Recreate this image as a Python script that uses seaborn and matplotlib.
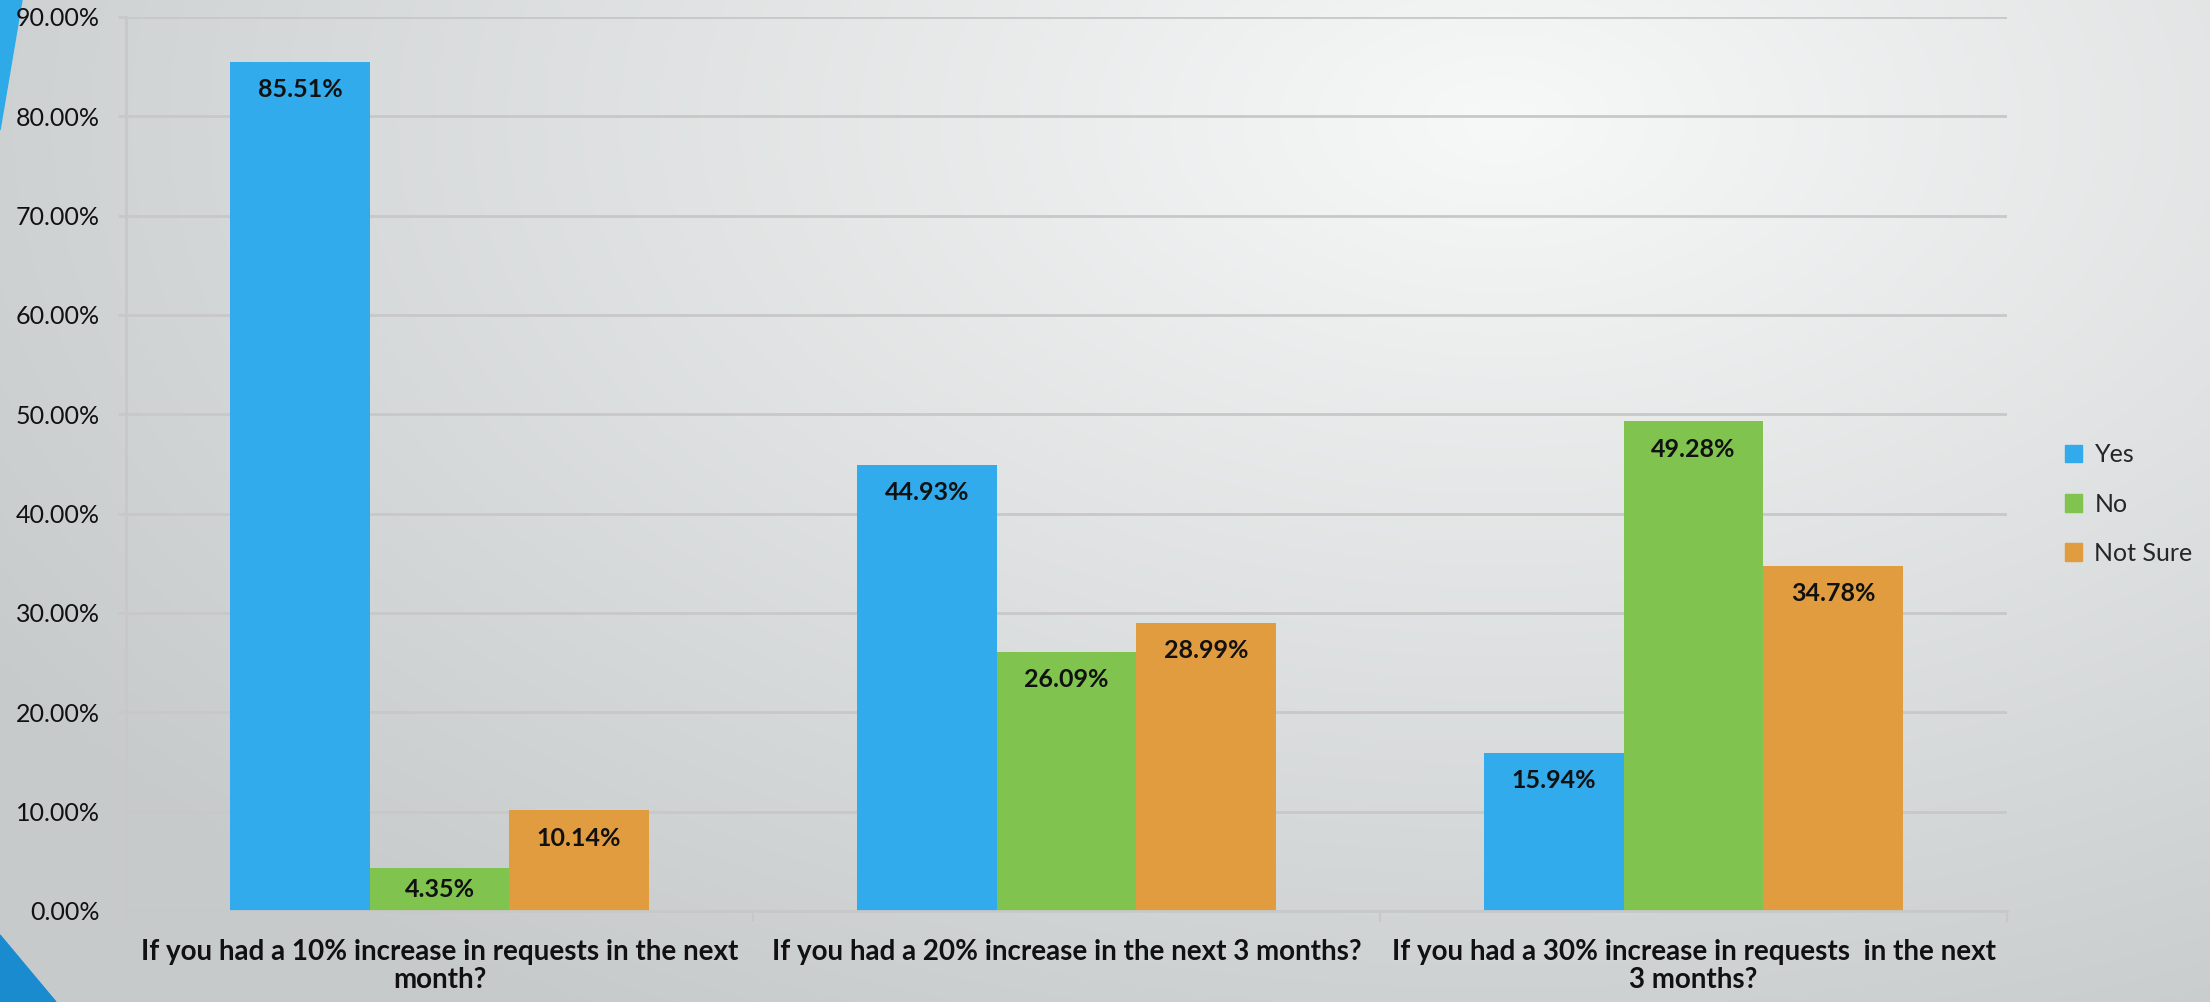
import numpy as np
import pandas as pd
import matplotlib.pyplot as plt
import seaborn as sns
from matplotlib.patches import Polygon, Patch

# Survey data
questions = ["If you had a 10% increase in requests in the next\nmonth?",
             "If you had a 20% increase in the next 3 months?",
             "If you had a 30% increase in requests  in the next\n3 months?"]
answers = ["Yes", "No", "Not Sure"]
yes = [85.51, 44.93, 15.94]
no = [4.35, 26.09, 49.28]
not_sure = [10.14, 28.99, 34.78]
colors = ["#31abeb", "#80c34f", "#e29c40"]
y_ticks = [0, 10, 20, 30, 40, 50, 60, 70, 80, 90]

sns.set_style("white")
plt.rcParams['font.family'] = ['Lato', 'DejaVu Sans']

df = pd.DataFrame({
    "Question": questions * 3,
    "Answer": [a for a in answers for _ in questions],
    "Value": yes + no + not_sure,
})

W, H = 2210, 1002
fig = plt.figure(figsize=(W / 100, H / 100), dpi=100)

# Slide-like background with a soft radial gradient
bg = fig.add_axes([0, 0, 1, 1])
yy, xx = np.mgrid[0:H, 0:W]
d = np.clip(np.sqrt(((xx - 1500) / 1800) ** 2 + ((yy - 120) / 1050) ** 2), 0, 1)
light = np.array([247, 248, 248]) / 255
dark = np.array([198, 202, 203]) / 255
bg.imshow(light + (dark - light) * d[..., None], extent=[0, W, H, 0], aspect="auto")
bg.add_patch(Polygon([(0, 0), (22, 0), (0, 130)], color="#2eaae8"))
bg.add_patch(Polygon([(0, 935), (56, H), (0, H)], color="#1b8bcf"))
bg.set_xlim(0, W)
bg.set_ylim(H, 0)
bg.axis("off")

# Main chart
ax = fig.add_axes([126 / W, 91 / H, (2007 - 126) / W, (911 - 17) / H])
ax.set_facecolor("none")
sns.barplot(data=df, x="Question", y="Value", hue="Answer", palette=colors,
            width=0.667, saturation=1, linewidth=0, ax=ax, legend=False)

grid_c = "#c8c8c8"
ax.set_axisbelow(True)
ax.yaxis.grid(True, color=grid_c, lw=2)
ax.set_ylim(0, 90)
ax.set_xlim(-0.5, 2.5)
ax.set_yticks(y_ticks)
ax.set_yticklabels([f"{t:.2f}%" for t in y_ticks], fontsize=18, color="#111111")
ax.tick_params(axis="y", length=6, width=2, color=grid_c, pad=13, left=True)
ax.set_xticks(range(3))
ax.set_xticklabels(questions, fontsize=20, fontweight="bold", color="#111111",
                   linespacing=1.1)
ax.tick_params(axis="x", length=0, pad=20)
ax.set_xticks([-0.5, 0.5, 1.5, 2.5], minor=True)
ax.tick_params(axis="x", which="minor", length=8, width=1.5, color=grid_c, bottom=True)
ax.set_xlabel("")
ax.set_ylabel("")
for s in ["top", "right"]:
    ax.spines[s].set_visible(False)
for s in ["left", "bottom"]:
    ax.spines[s].set_color(grid_c)
    ax.spines[s].set_linewidth(2)

# Value labels inside the top of each bar
for container, vals in zip(ax.containers, [yes, no, not_sure]):
    for bar, v in zip(container, vals):
        x = bar.get_x() + bar.get_width() / 2
        ax.text(x, v - min(2.8, v / 2), f"{v:.2f}%", ha="center", va="center",
                fontsize=18, fontweight="bold", color="#111111")

handles = [Patch(color=c) for c in colors]
fig.legend(handles, answers, loc="center left", bbox_to_anchor=(2042 / W, 1 - 504 / H),
           frameon=False, fontsize=18, handlelength=0.7, handleheight=0.7,
           handletextpad=0.5, labelspacing=1.05)

fig.savefig("out.png", dpi=100)
